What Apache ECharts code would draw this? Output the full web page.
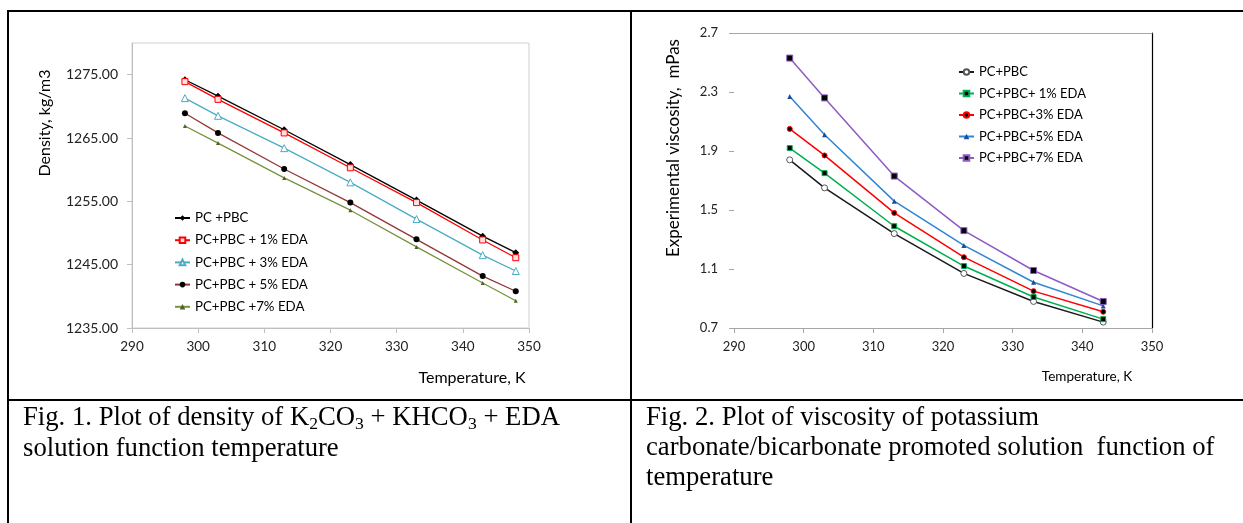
<!DOCTYPE html>
<html>
<head>
<meta charset="utf-8">
<script src="https://cdn.jsdelivr.net/npm/echarts@6.0.0/dist/echarts.min.js"></script>
<style>
  html, body { margin:0; padding:0; background:#fff; }
  #wrap { position:relative; width:1243px; height:523px; overflow:hidden; background:#fff; }
  #chart { position:absolute; left:0; top:0; width:1243px; height:523px; }
  .ln { position:absolute; background:#000; }
  .cap { position:absolute; font-family:"Liberation Serif","Times New Roman",serif; font-size:26.7px; line-height:30px; color:#000; white-space:nowrap; }
  .cap sub { font-size:0.66em; line-height:0; vertical-align:-0.22em; }
</style>
</head>
<body>
<div id="wrap">
  <div id="chart"></div>
  <div class="ln" style="left:7px;top:10px;width:1236px;height:2px"></div>
  <div class="ln" style="left:7px;top:10px;width:2px;height:513px"></div>
  <div class="ln" style="left:630px;top:10px;width:2px;height:513px"></div>
  <div class="ln" style="left:7px;top:399px;width:1236px;height:2px"></div>
  <div class="cap" style="left:23px;top:401px;line-height:31px">Fig. 1. Plot of density of K<sub>2</sub>CO<sub>3</sub> + KHCO<sub>3</sub> + EDA<br>solution function temperature</div>
  <div class="cap" style="left:646px;top:401px">Fig. 2. Plot of viscosity of potassium<br>carbonate/bicarbonate promoted solution&nbsp; function of<br>temperature</div>
</div>
<script>
// ---- Data: Fig. 1 (density, kg/m3) ----
const temps1 = [298, 303, 313, 323, 333, 343, 348];
const names1 = ['PC +PBC', 'PC+PBC + 1% EDA', 'PC+PBC + 3% EDA', 'PC+PBC + 5% EDA', 'PC+PBC +7% EDA'];
const densPC = [1274.2, 1271.6, 1266.3, 1260.8, 1255.2, 1249.5, 1246.9];
const dens1  = [1273.9, 1271.1, 1265.8, 1260.3, 1254.8, 1248.9, 1246.1];
const dens3  = [1271.3, 1268.5, 1263.4, 1258.0, 1252.2, 1246.5, 1244.0];
const dens5  = [1268.9, 1265.8, 1260.1, 1254.8, 1249.0, 1243.2, 1240.8];
const dens7  = [1266.9, 1264.2, 1258.7, 1253.6, 1247.8, 1242.1, 1239.3];
const yTicks1 = [1235, 1245, 1255, 1265, 1275];

// ---- Data: Fig. 2 (viscosity, mPas) ----
const temps2 = [298, 303, 313, 323, 333, 343];
const names2 = ['PC+PBC', 'PC+PBC+ 1% EDA', 'PC+PBC+3% EDA', 'PC+PBC+5% EDA', 'PC+PBC+7% EDA'];
const viscPC = [1.84, 1.65, 1.34, 1.07, 0.88, 0.74];
const visc1  = [1.92, 1.75, 1.39, 1.12, 0.91, 0.76];
const visc3  = [2.05, 1.87, 1.48, 1.18, 0.95, 0.81];
const visc5  = [2.27, 2.01, 1.56, 1.26, 1.01, 0.85];
const visc7  = [2.53, 2.26, 1.73, 1.36, 1.09, 0.88];

const xTicks = [290, 300, 310, 320, 330, 340, 350];

const FONT = 'Lato';
const pairs = (xs, ys) => xs.map((x, i) => [x, ys[i]]);

function s1(name, data, lineColor, symbol, size, itemStyle) {
  return {
    name, type: 'line', xAxisIndex: 0, yAxisIndex: 0, data: pairs(temps1, data),
    symbol, symbolSize: size, showSymbol: true, animation: false,
    lineStyle: { color: lineColor, width: 1.3 },
    itemStyle: itemStyle, emphasis: { disabled: true }, z: 3
  };
}
function s2(name, data, lineColor, symbol, size, itemStyle) {
  return {
    name, type: 'line', xAxisIndex: 1, yAxisIndex: 1, data: pairs(temps2, data),
    symbol, symbolSize: size, showSymbol: true, animation: false,
    lineStyle: { color: lineColor, width: 1.5 },
    itemStyle: itemStyle, emphasis: { disabled: true }, z: 3
  };
}

const chart = echarts.init(document.getElementById('chart'), null, { renderer: 'canvas' });
chart.setOption({
  animation: false,
  backgroundColor: 'transparent',
  textStyle: { fontFamily: FONT },
  grid: [
    { left: 132, right: 714, top: 43, bottom: 195, show: true, borderColor: '#d0d0d0', borderWidth: 1, backgroundColor: 'transparent' },
    { left: 734, right: 91, top: 33, bottom: 195 }
  ],
  legend: [
    { data: names1, orient: 'vertical', left: 174, top: 211, padding: 0, itemWidth: 15, itemHeight: 7, itemGap: 8.2,
      textStyle: { fontFamily: FONT, fontSize: 13.3, color: '#000', lineHeight: 14 }, selectedMode: false },
    { data: names2, orient: 'vertical', left: 958, top: 65, padding: 0, itemWidth: 15, itemHeight: 7, itemGap: 7.5,
      textStyle: { fontFamily: FONT, fontSize: 13, color: '#000', lineHeight: 14 }, selectedMode: false }
  ],
  xAxis: [
    { gridIndex: 0, type: 'value', min: 290, max: 350, interval: 10,
      axisLine: { show: true, lineStyle: { color: '#bfbfbf', width: 1 } },
      axisTick: { show: true, length: 5, lineStyle: { color: '#bfbfbf' }, customValues: xTicks },
      axisLabel: { fontFamily: FONT, fontSize: 13.5, color: '#222', margin: 12, customValues: xTicks },
      splitLine: { show: false } },
    { gridIndex: 1, type: 'value', min: 290, max: 350, interval: 10,
      axisLine: { show: true, lineStyle: { color: '#a6a6a6', width: 1 } },
      axisTick: { show: true, length: 5, lineStyle: { color: '#a6a6a6' }, customValues: xTicks },
      axisLabel: { fontFamily: FONT, fontSize: 13, color: '#222', margin: 12, customValues: xTicks },
      splitLine: { show: false } },
    { gridIndex: 1, type: 'value', min: 290, max: 350, position: 'top',
      axisLine: { show: true, onZero: false, lineStyle: { color: '#a6a6a6', width: 1 } },
      axisTick: { show: false }, axisLabel: { show: false }, splitLine: { show: false } }
  ],
  yAxis: [
    { gridIndex: 0, type: 'value', min: 1235, max: 1280, interval: 10,
      axisLine: { show: true, lineStyle: { color: '#bfbfbf', width: 1 } },
      axisTick: { show: true, length: 5, lineStyle: { color: '#bfbfbf' }, customValues: yTicks1 },
      axisLabel: { fontFamily: FONT, fontSize: 14, color: '#222', margin: 14, customValues: yTicks1,
                   formatter: v => Number(v).toFixed(2) },
      splitLine: { show: false } },
    { gridIndex: 1, type: 'value', min: 0.7, max: 2.7, interval: 0.4,
      axisLine: { show: false },
      axisTick: { show: true, length: 5, lineStyle: { color: '#a6a6a6' } },
      axisLabel: { fontFamily: FONT, fontSize: 13, color: '#222', margin: 16,
                   formatter: v => Number(v).toFixed(1) },
      splitLine: { show: false } },
    { gridIndex: 1, type: 'value', min: 0.7, max: 2.7, position: 'right',
      axisLine: { show: true, onZero: false, lineStyle: { color: '#000', width: 1.2 } },
      axisTick: { show: false }, axisLabel: { show: false }, splitLine: { show: false } }
  ],
  graphic: [
    { type: 'text', x: 45, y: 123, rotation: Math.PI / 2, silent: true,
      style: { text: 'Density, kg/m3', fontFamily: FONT, fontSize: 16, fill: '#000', align: 'center', verticalAlign: 'middle' } },
    { type: 'text', x: 472, y: 378, silent: true,
      style: { text: 'Temperature, K', fontFamily: FONT, fontSize: 16, fill: '#000', align: 'center', verticalAlign: 'middle' } },
    { type: 'text', x: 674, y: 148, rotation: Math.PI / 2, silent: true,
      style: { text: 'Experimental viscosity,  mPas', fontFamily: FONT, fontSize: 17, fill: '#000', align: 'center', verticalAlign: 'middle' } },
    { type: 'text', x: 1087, y: 377, silent: true,
      style: { text: 'Temperature, K', fontFamily: FONT, fontSize: 13.5, fill: '#000', align: 'center', verticalAlign: 'middle' } }
  ],
  series: [
    s1(names1[0], densPC, '#000000', 'diamond', 7, { color: '#000000' }),
    s1(names1[1], dens1, '#ff0000', 'rect', 6, { color: '#ffe0e0', borderColor: '#ff0000', borderWidth: 1 }),
    s1(names1[2], dens3, '#4bacc6', 'triangle', 7, { color: '#ffffff', borderColor: '#4bacc6', borderWidth: 1 }),
    s1(names1[3], dens5, '#953735', 'circle', 6, { color: '#000000' }),
    s1(names1[4], dens7, '#77933c', 'triangle', 4, { color: '#4f6228' }),

    s2(names2[0], viscPC, '#1a1a1a', 'circle', 6, { color: '#ffffff', borderColor: '#555555', borderWidth: 1 }),
    s2(names2[1], visc1, '#00b050', 'rect', 5, { color: '#000000', borderColor: '#00b050', borderWidth: 1 }),
    s2(names2[2], visc3, '#ff0000', 'circle', 5, { color: '#000000', borderColor: '#ff0000', borderWidth: 1 }),
    s2(names2[3], visc5, '#2f86d2', 'triangle', 5, { color: '#1f4e99' }),
    s2(names2[4], visc7, '#8e5bc4', 'rect', 6, { color: '#000000', borderColor: '#8e5bc4', borderWidth: 1 })
  ]
});
</script>
</body>
</html>
